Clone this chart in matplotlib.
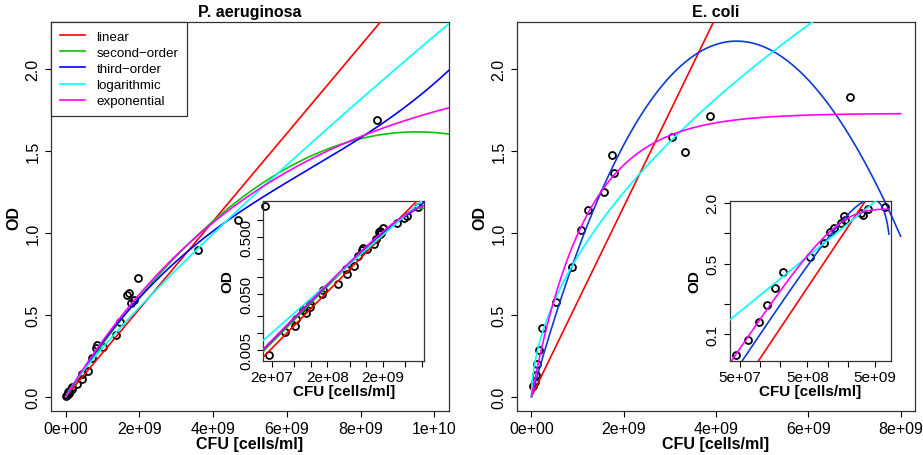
import numpy as np
import matplotlib
matplotlib.use("Agg")
import matplotlib.pyplot as plt
from matplotlib.ticker import FixedLocator, NullLocator

plt.rcParams['font.family'] = ['Liberation Sans', 'DejaVu Sans']

# P. aeruginosa calibration: CFU [cells/ml] vs OD
cfu_pa = [1.82e7, 3.5e7, 5.3e7, 5.5e7, 7.2e7, 8.2e7, 9.6e7, 9.8e7, 1.59e8, 1.66e8,
          3.1e8, 4.4e8, 4.45e8, 5.9e8, 7.2e8, 8.2e8, 8.6e8, 1.02e9, 1.36e9, 1.46e9,
          1.66e9, 1.72e9, 1.76e9, 1.86e9, 1.97e9, 3.58e9, 4.68e9, 5.4e9, 8.45e9]
od_pa = [0.0042, 0.0105, 0.0134, 0.0181, 0.0254, 0.0225, 0.0324, 0.0287, 0.0488, 0.058,
         0.0745, 0.136, 0.110, 0.155, 0.234, 0.297, 0.318, 0.300, 0.376, 0.455,
         0.622, 0.630, 0.570, 0.588, 0.724, 0.895, 1.08, 1.165, 1.69]

# E. coli calibration
cfu_ec = [4.4e7, 6.6e7, 9.8e7, 1.25e8, 1.68e8, 2.2e8, 5.4e8, 8.7e8, 1.07e9, 1.23e9,
          1.58e9, 1.75e9, 1.78e9, 3.05e9, 3.33e9, 3.88e9, 6.9e9]
od_ec = [0.063, 0.089, 0.134, 0.197, 0.287, 0.418, 0.579, 0.793, 1.02, 1.137,
         1.25, 1.474, 1.364, 1.586, 1.496, 1.717, 1.83]

# fitted models, CFU in units of 1e9 cells/ml
# linear: OD = a*x ; poly: OD = sum(c_i * x^i) ; logarithmic: log10(OD) = a + b*log10(CFU)
# exponential: OD = a*(1 - exp(-b*x))
pa_lin = 0.268
pa_quad = [0.3394, -0.01781]
pa_cubic = [0.365, -0.03514, 0.001777]
pa_log = [-8.327, 0.867]
pa_exp = [2.097, 0.177]

ec_lin = 0.58
ec_cubic = [1.0152, -0.12713, 0.001943]
ec_log = [-4.973, 0.545]
ec_exp = [1.73, 0.851]

fit_names = ["linear", "second\u2212order", "third\u2212order", "logarithmic", "exponential"]
fit_colors = ["#ff0000", "#00c800", "#0000ff", "#00ffff", "#ff00ff"]


def poly(x, c):
    u = np.asarray(x) / 1e9
    return sum(ci * u ** (i + 1) for i, ci in enumerate(c))


def model_curves(x, lin, quad, cubic, logp, expp):
    u = np.asarray(x) / 1e9
    return [lin * u,
            poly(x, quad) if quad is not None else None,
            poly(x, cubic),
            10 ** (logp[0] + logp[1] * np.log10(np.maximum(x, 1.0))),
            expp[0] * (1 - np.exp(-expp[1] * u))]


def r_limits(vals, log=False):
    v = np.log10(vals) if log else np.asarray(vals, float)
    lo, hi = v.min(), v.max()
    d = 0.04 * (hi - lo)
    lo, hi = lo - d, hi + d
    return (10 ** lo, 10 ** hi) if log else (lo, hi)


def style_axes(ax, fs):
    for s in ax.spines.values():
        s.set_linewidth(0.9)
        s.set_color("#333333")
    ax.tick_params(direction="out", length=4.5, width=0.8, labelsize=fs, pad=2.5)
    ax.tick_params(axis="y", pad=3)


fig = plt.figure(figsize=(9.23, 4.56), dpi=100)

panels = [
    dict(title="P. aeruginosa", cfu=cfu_pa, od=od_pa, xmax=1e10, grid_max=1.2e10,
         pars=(pa_lin, pa_quad, pa_cubic, pa_log, pa_exp), blue="#0000ff",
         main=[0.0553, 0.0965, 0.4312, 0.853], inset=[0.2853, 0.2072, 0.1741, 0.3498],
         xt_in=[2e7, 5e7, 1e8, 2e8, 5e8, 1e9, 2e9, 5e9, 1e10], xl_in=["2e+07", "2e+08", "2e+09"],
         yt_in=[0.005, 0.01, 0.02, 0.05, 0.1, 0.2, 0.5, 1.0], yl_in=["0.005", "0.050", "0.500"],
         legend=True),
    dict(title="E. coli", cfu=cfu_ec, od=od_ec, xmax=8e9, grid_max=8e9,
         pars=(ec_lin, None, ec_cubic, ec_log, ec_exp), blue="#0a3cd2",
         main=[0.5598, 0.0965, 0.4319, 0.853], inset=[0.7909, 0.2068, 0.1739, 0.3509],
         xt_in=[5e7, 1e8, 2e8, 5e8, 1e9, 2e9, 5e9], xl_in=["5e+07", "5e+08", "5e+09"],
         yt_in=[0.1, 0.2, 0.5, 1.0, 2.0], yl_in=["0.1", "0.5", "2.0"],
         legend=False),
]

for p in panels:
    ax = fig.add_axes(p["main"])
    ax.plot(p["cfu"], p["od"], "o", mfc="none", mec="k", ms=5, mew=1.3, zorder=2)
    xg = np.linspace(0, p["grid_max"], 600)
    colors = list(fit_colors)
    colors[2] = p["blue"]
    handles = []
    for y, c, name in zip(model_curves(xg, *p["pars"]), colors, fit_names):
        if y is None:
            continue
        h, = ax.plot(xg, y, color=c, lw=1.2, zorder=3, label=name)
        handles.append(h)
    ax.set_xlim(-0.04 * p["xmax"], 1.04 * p["xmax"])
    ax.set_ylim(-0.088, 2.288)
    xt = np.arange(0, p["xmax"] + 1, 2e9)
    ax.xaxis.set_major_locator(FixedLocator(xt))
    ax.set_xticklabels([f"{v:.0e}" for v in xt])
    yt = [0.0, 0.5, 1.0, 1.5, 2.0]
    ax.yaxis.set_major_locator(FixedLocator(yt))
    ax.set_yticklabels([f"{v:.1f}" for v in yt], rotation=90, va="center")
    style_axes(ax, 11.5)
    ax.set_title(p["title"], fontweight="bold", fontsize=11.5, pad=4)
    ax.set_xlabel("CFU [cells/ml]", fontweight="bold", fontsize=11.5, labelpad=0)
    ax.set_ylabel("OD", fontweight="bold", fontsize=11.5, labelpad=3)
    if p["legend"]:
        leg = ax.legend(handles=handles, loc="upper left", bbox_to_anchor=(0, 1),
                        borderaxespad=0, fancybox=False, edgecolor="#333333", framealpha=1,
                        fontsize=9.6, handlelength=1.9, handletextpad=0.85, borderpad=0.65,
                        labelspacing=0.28)
        leg.get_frame().set_linewidth(0.9)

    # log-log inset of the same data and models
    axi = fig.add_axes(p["inset"])
    axi.patch.set_alpha(0)
    axi.plot(p["cfu"], p["od"], "o", mfc="none", mec="k", ms=5, mew=1.3, zorder=2)
    xl = np.geomspace(5e6, p["grid_max"], 800)
    for y, c in zip(model_curves(xl, *p["pars"]), colors):
        if y is None:
            continue
        axi.plot(xl, np.where(y > 0, y, np.nan), color=c, lw=1.2, zorder=3)
    axi.set_xscale("log")
    axi.set_yscale("log")
    axi.set_xlim(*r_limits(p["cfu"], log=True))
    axi.set_ylim(*r_limits(p["od"], log=True))
    axi.xaxis.set_major_locator(FixedLocator(p["xt_in"]))
    axi.xaxis.set_minor_locator(NullLocator())
    axi.set_xticklabels([f"{v:.0e}" if f"{v:.0e}" in p["xl_in"] else "" for v in p["xt_in"]])
    axi.yaxis.set_major_locator(FixedLocator(p["yt_in"]))
    axi.yaxis.set_minor_locator(NullLocator())
    ylab = []
    for v in p["yt_in"]:
        s = f"{v:.3f}" if p["legend"] else f"{v:.1f}"
        ylab.append(s if s in p["yl_in"] else "")
    axi.set_yticklabels(ylab, rotation=90, va="center")
    style_axes(axi, 11)
    axi.set_xlabel("CFU [cells/ml]", fontweight="bold", fontsize=11, labelpad=0)
    axi.set_ylabel("OD", fontweight="bold", fontsize=11, labelpad=3)

fig.savefig("out.png", dpi=100)
